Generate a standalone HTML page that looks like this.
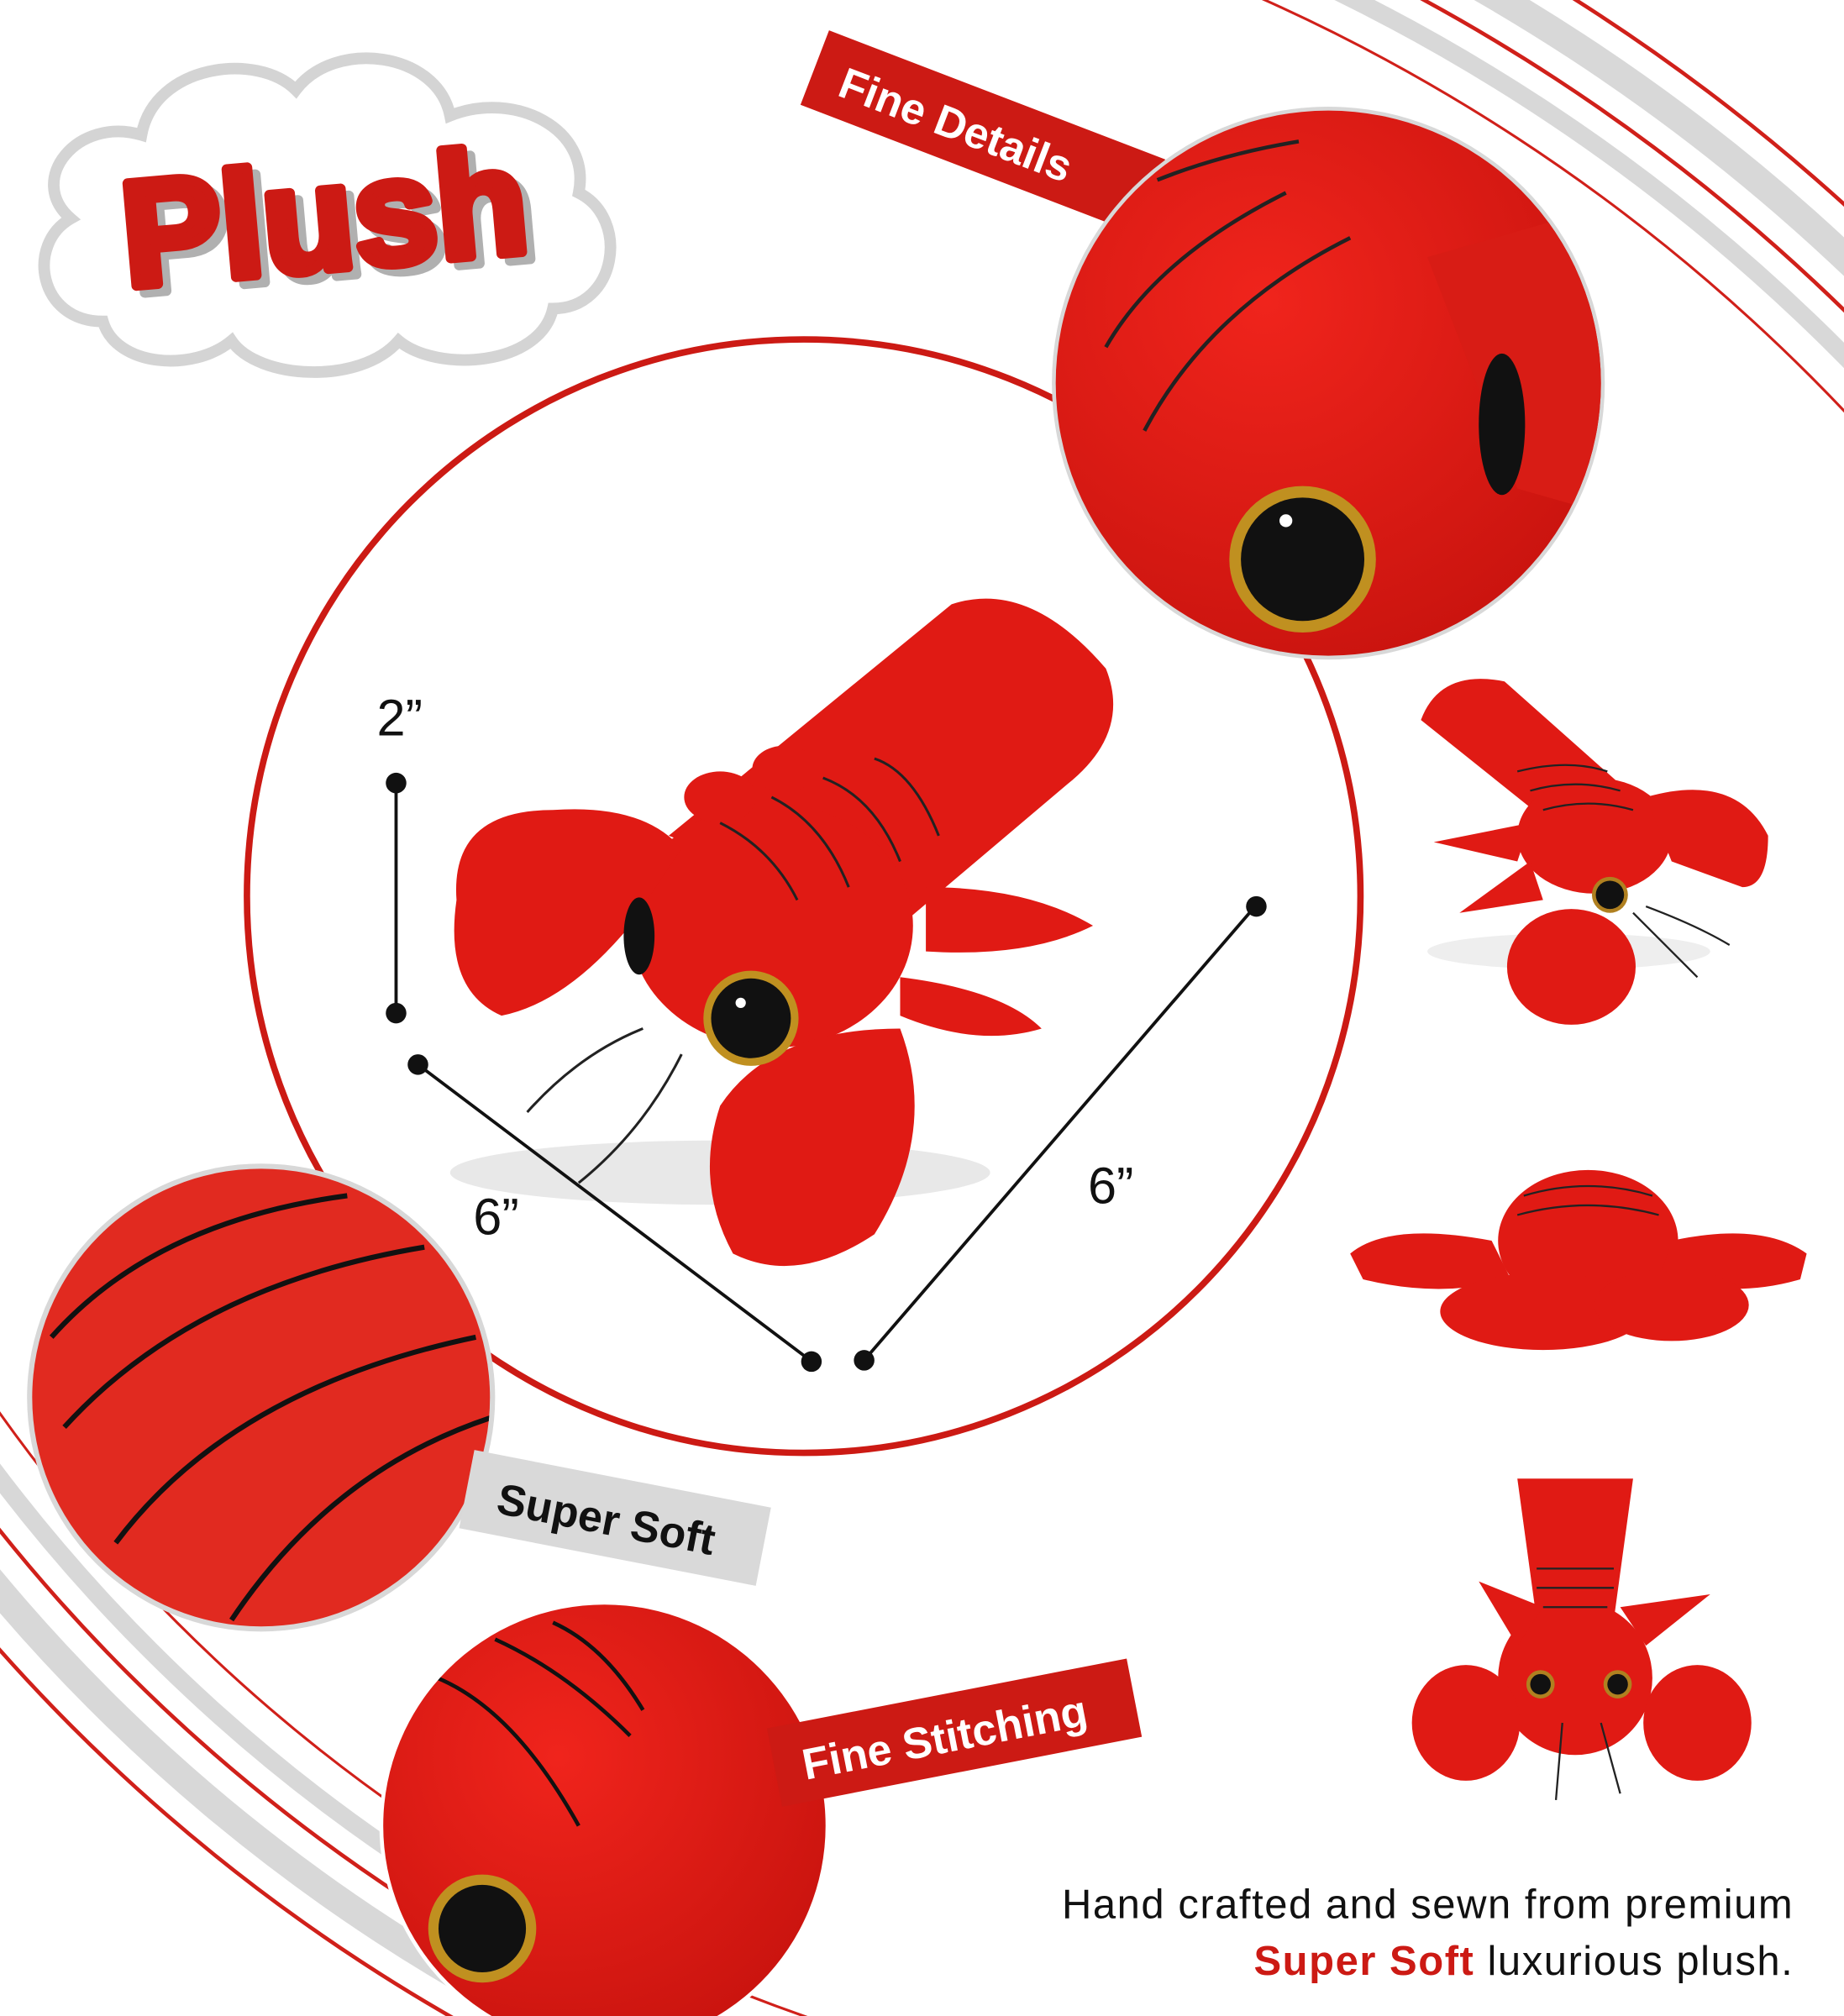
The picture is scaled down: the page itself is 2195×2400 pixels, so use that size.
<!DOCTYPE html>
<html><head><meta charset="utf-8"><style>
html,body{margin:0;padding:0;background:#fff;width:2195px;height:2400px;overflow:hidden;}
svg{display:block;}
text{font-family:"Liberation Sans","DejaVu Sans",sans-serif;}
</style></head><body>
<svg width="2195" height="2400" viewBox="0 0 1434 1568" xmlns="http://www.w3.org/2000/svg">
<defs>
<clipPath id="c1"><circle cx="1033" cy="298" r="212"/></clipPath>
<clipPath id="c2"><circle cx="203" cy="1087" r="178"/></clipPath>
<clipPath id="c3"><circle cx="470" cy="1420" r="172"/></clipPath>
<radialGradient id="rg" cx="40%" cy="35%" r="70%"><stop offset="0" stop-color="#f0241c"/><stop offset="1" stop-color="#c8130e"/></radialGradient>
</defs>
<rect width="1434" height="1568" fill="#fff"/>
<g fill="none">
<circle cx="400" cy="1300" r="1425" stroke="#d0201a" stroke-width="2"/>
<circle cx="400" cy="1300" r="1455" stroke="#d8d8d8" stroke-width="14"/>
<circle cx="400" cy="1300" r="1480" stroke="#d0201a" stroke-width="3"/>
<circle cx="400" cy="1300" r="1510" stroke="#d8d8d8" stroke-width="22"/>
<circle cx="400" cy="1300" r="1540" stroke="#d0201a" stroke-width="3"/>
</g>
<g fill="none">
<circle cx="1050" cy="350" r="1290" stroke="#d0201a" stroke-width="2"/>
<circle cx="1050" cy="350" r="1320" stroke="#d8d8d8" stroke-width="14"/>
<circle cx="1050" cy="350" r="1345" stroke="#d0201a" stroke-width="3"/>
<circle cx="1050" cy="350" r="1375" stroke="#d8d8d8" stroke-width="22"/>
<circle cx="1050" cy="350" r="1405" stroke="#d0201a" stroke-width="3"/>
</g>
<g fill="#fff" stroke="#d4d4d4" stroke-width="9">
<path d="M80,250 C30,250 20,190 55,170 C20,140 60,90 110,105 C120,50 200,40 230,70 C260,30 340,40 350,90 C400,70 460,100 450,150 C490,170 480,240 430,240 C420,285 340,290 310,265 C280,300 200,295 180,265 C150,290 90,285 80,250 Z"/>
</g>
<g transform="rotate(-5 255 165)" font-size="116" font-weight="bold">
<text x="100" y="215" fill="#b0b0b0" stroke="#b0b0b0" stroke-width="8" stroke-linejoin="round">Plush</text>
<text x="94" y="209" fill="#cc1a14" stroke="#cc1a14" stroke-width="8" stroke-linejoin="round">Plush</text>
</g>
<circle cx="625" cy="697" r="433" fill="#fff" stroke="#cc1a14" stroke-width="5"/>
<ellipse cx="560" cy="912" rx="210" ry="25" fill="#e8e8e8"/>
<g fill="#e01a14">
<path d="M520,650 L740,470 Q800,450 860,520 Q880,570 830,610 L700,720 Z"/>
<ellipse cx="600" cy="720" rx="110" ry="95"/>
<path d="M355,700 Q350,630 430,630 Q500,625 530,660 L490,720 Q440,780 390,790 Q345,770 355,700 Z"/>
<path d="M560,860 Q600,800 700,800 Q730,880 680,960 Q620,1000 570,975 Q540,920 560,860 Z"/>
<path d="M720,690 Q800,690 850,720 Q800,745 720,740 Z"/>
<path d="M700,760 Q780,770 810,800 Q760,815 700,790 Z"/>
<ellipse cx="560" cy="620" rx="28" ry="20"/><ellipse cx="610" cy="598" rx="25" ry="18"/>
</g>
<g stroke="#222" stroke-width="2" fill="none">
<path d="M560,640 Q600,660 620,700"/><path d="M600,620 Q640,640 660,690"/><path d="M640,605 Q680,620 700,670"/><path d="M680,590 Q710,600 730,650"/>
<path d="M500,800 Q450,820 410,865"/><path d="M530,820 Q500,880 450,920"/>
</g>
<circle cx="584" cy="792" r="37" fill="#c09020"/><circle cx="584" cy="792" r="31" fill="#111"/><circle cx="576" cy="780" r="4" fill="#fff"/>
<ellipse cx="497" cy="728" rx="12" ry="30" fill="#111"/>
<g stroke="#111" stroke-width="2.5"><line x1="308" y1="610" x2="308" y2="788"/><line x1="325" y1="828" x2="630" y2="1058"/><line x1="672" y1="1058" x2="976" y2="705"/></g>
<g fill="#111"><circle cx="308" cy="609" r="8"/><circle cx="308" cy="788" r="8"/><circle cx="325" cy="828" r="8"/><circle cx="631" cy="1059" r="8"/><circle cx="672" cy="1058" r="8"/><circle cx="977" cy="705" r="8"/></g>
<g font-size="40" fill="#111"><text x="293" y="572">2”</text><text x="368" y="960">6”</text><text x="846" y="936">6”</text></g>
<g transform="rotate(21 760 100)"><rect x="625" y="70" width="280" height="62" fill="#cc1a14"/><text x="648" y="115" font-size="34" font-weight="bold" fill="#fff">Fine Details</text></g>
<circle cx="1033" cy="298" r="215" fill="#d8d8d8"/>
<g clip-path="url(#c1)"><rect x="800" y="80" width="460" height="440" fill="url(#rg)"/>
<path d="M1110,200 L1250,160 L1250,400 L1180,380 Z" fill="#d81c15"/>
<g stroke="#222" stroke-width="3" fill="none"><path d="M860,270 Q900,200 1000,150"/><path d="M890,335 Q940,240 1050,185"/><path d="M900,140 Q950,120 1010,110"/></g>
<circle cx="1013" cy="435" r="57" fill="#c09020"/><circle cx="1013" cy="435" r="48" fill="#111"/><circle cx="1000" cy="405" r="5" fill="#fff"/>
<ellipse cx="1168" cy="330" rx="18" ry="55" fill="#111"/></g>
<circle cx="203" cy="1087" r="182" fill="#d8d8d8"/>
<g clip-path="url(#c2)"><rect x="20" y="900" width="370" height="370" fill="#e12a20"/>
<g stroke="#111" stroke-width="4" fill="none"><path d="M40,1040 Q120,950 270,930"/><path d="M50,1110 Q150,1000 330,970"/><path d="M90,1200 Q180,1080 370,1040"/><path d="M180,1260 Q260,1140 390,1100"/></g></g>
<g transform="rotate(11 480 1185)"><rect x="360" y="1150" width="235" height="62" fill="#d9d9d9"/><text x="385" y="1195" font-size="34" font-weight="bold" fill="#111">Super Soft</text></g>
<circle cx="470" cy="1420" r="175" fill="#fff"/>
<g clip-path="url(#c3)"><rect x="290" y="1240" width="360" height="360" fill="url(#rg)"/>
<g stroke="#111" stroke-width="3" fill="none"><path d="M340,1305 Q400,1330 450,1420"/><path d="M385,1275 Q440,1300 490,1350"/><path d="M430,1262 Q470,1280 500,1330"/></g>
<circle cx="375" cy="1500" r="42" fill="#c09020"/><circle cx="375" cy="1500" r="34" fill="#111"/></g>
<g transform="rotate(-11 735 1350)"><rect x="600" y="1318" width="285" height="62" fill="#cc1a14"/><text x="622" y="1363" font-size="34" font-weight="bold" fill="#fff">Fine Stitching</text></g>
<ellipse cx="1220" cy="740" rx="110" ry="14" fill="#eee"/>
<g fill="#e01a14">
<path d="M1105,560 Q1120,520 1170,530 L1260,610 L1230,660 Z"/>
<ellipse cx="1240" cy="650" rx="60" ry="45"/>
<path d="M1280,620 Q1350,600 1375,650 Q1375,690 1355,690 L1300,670 Z"/>
<ellipse cx="1222" cy="752" rx="50" ry="45"/>
<path d="M1115,655 L1190,640 L1180,670 Z"/><path d="M1135,710 L1190,670 L1200,700 Z"/>
<ellipse cx="1235" cy="965" rx="70" ry="55"/>
<path d="M1050,975 Q1080,950 1160,965 L1175,995 Q1120,1010 1060,995 Z"/>
<path d="M1405,975 Q1370,950 1300,965 L1290,995 Q1350,1010 1400,995 Z"/>
<ellipse cx="1200" cy="1020" rx="80" ry="30"/><ellipse cx="1300" cy="1015" rx="60" ry="28"/>
<path d="M1180,1150 L1270,1150 L1255,1260 L1195,1260 Z"/>
<ellipse cx="1225" cy="1305" rx="60" ry="60"/>
<ellipse cx="1140" cy="1340" rx="42" ry="45"/><ellipse cx="1320" cy="1340" rx="42" ry="45"/>
<path d="M1150,1230 L1200,1250 L1180,1280 Z"/><path d="M1330,1240 L1260,1250 L1280,1280 Z"/>
</g>
<circle cx="1252" cy="696" r="14" fill="#b08020"/><circle cx="1252" cy="696" r="11" fill="#111"/>
<circle cx="1198" cy="1310" r="11" fill="#b08020"/><circle cx="1198" cy="1310" r="8" fill="#111"/>
<circle cx="1258" cy="1310" r="11" fill="#b08020"/><circle cx="1258" cy="1310" r="8" fill="#111"/>
<g stroke="#222" stroke-width="1.5" fill="none"><path d="M1270,710 Q1300,740 1320,760"/><path d="M1280,705 Q1320,720 1345,735"/><path d="M1215,1340 L1210,1400"/><path d="M1245,1340 L1260,1395"/>
<path d="M1180,600 Q1220,590 1250,600"/><path d="M1190,615 Q1225,605 1260,615"/><path d="M1200,630 Q1235,620 1270,630"/>
<path d="M1195,1220 L1255,1220"/><path d="M1195,1235 L1255,1235"/><path d="M1200,1250 L1250,1250"/>
<path d="M1185,930 Q1235,915 1285,930"/><path d="M1180,945 Q1235,930 1290,945"/></g>
<text x="1395" y="1492" font-size="32" fill="#111" text-anchor="end" letter-spacing="1">Hand crafted and sewn from premium</text>
<text x="1395" y="1536" font-size="32" fill="#111" text-anchor="end" letter-spacing="1"><tspan fill="#cc1a14" font-weight="bold">Super Soft</tspan> luxurious plush.</text>
</svg>
</body></html>
